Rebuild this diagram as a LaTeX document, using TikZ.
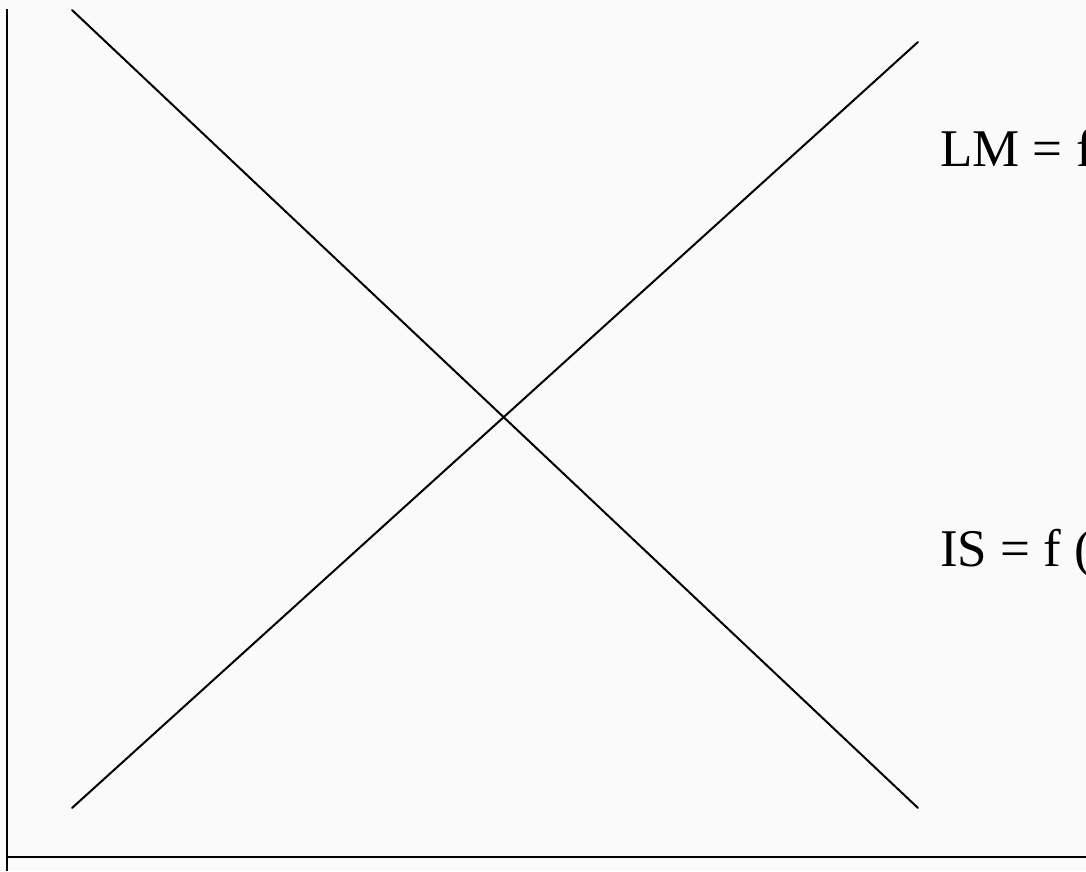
\documentclass[tikz,border=0pt]{standalone}
\usepackage{fontspec}
\setmainfont{Liberation Serif}
\usetikzlibrary{positioning}
\tikzset{
  axis/.style  = {line width=2.6pt, black},
  curve/.style = {line width=2pt, black, line cap=round},
  lbl/.style   = {font=\fontsize{53}{60}\selectfont, inner sep=0pt, anchor=base west},
}
\begin{document}
\begin{tikzpicture}[x=1pt,y=-1pt]
  \fill[black!2] (0,0) rectangle (1086,871);
  \useasboundingbox (0,0) rectangle (1086,871);
  \clip (0,0) rectangle (1086,871);
  % ejes
  \coordinate (O) at (7,857);
  \coordinate (ytop) at (7,9);
  \coordinate (xend) at (1086,857);
  \coordinate (ybot) at (7,871);
  \draw[axis] (ytop) -- (ybot);
  \draw[axis] (O) -- (xend);
  % curvas IS y LM
  \coordinate (is1) at (72,10);
  \coordinate (is2) at (918,808);
  \coordinate (lm1) at (72,808);
  \coordinate (lm2) at (918,42);
  \draw[curve] (is1) -- (is2);
  \draw[curve] (lm1) -- (lm2);
  \node[lbl] (LM) at (940,166) {LM = f};
  \node[lbl] (IS) at (940,566) {IS = f (};
\end{tikzpicture}
\end{document}
